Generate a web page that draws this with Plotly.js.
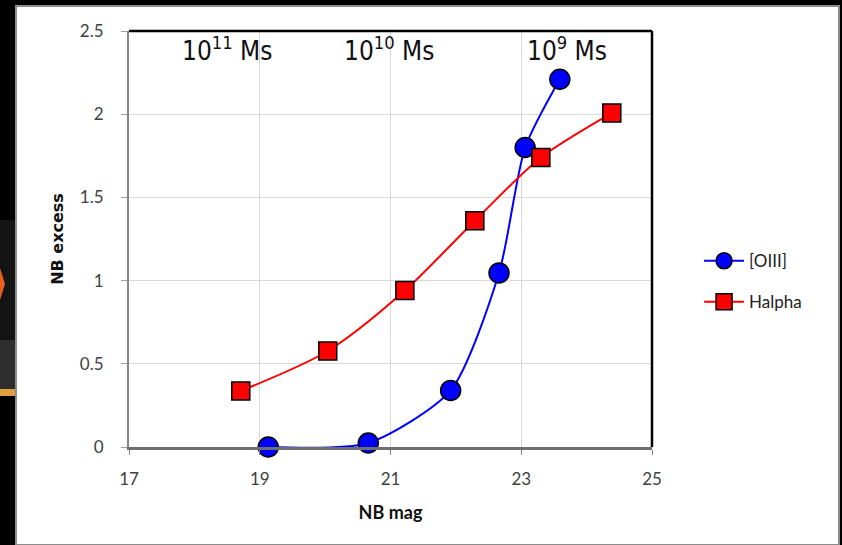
<!DOCTYPE html>
<html>
<head>
<meta charset="utf-8">
<script src="https://cdn.plot.ly/plotly-3.0.1.min.js"></script>
<style>
html,body{margin:0;padding:0;background:#000;}
#chart{width:842px;height:545px;}
</style>
</head>
<body>
<div id="chart"></div>
<script>
// ---- data ----
const oiiiMag = [19.13, 20.66, 21.92, 22.66, 23.06, 23.59];
const oiiiExcess = [0.0, 0.024, 0.34, 1.046, 1.80, 2.21];
const haMag = [18.71, 20.04, 21.22, 22.29, 23.30, 24.385];
const haExcess = [0.337, 0.577, 0.94, 1.36, 1.74, 2.007];
const xTicks = [17, 19, 21, 23, 25];
const yTicks = [0, 0.5, 1, 1.5, 2, 2.5];
const massLabels = ["10<sup>11</sup> Ms", "10<sup>10</sup> Ms", "10<sup>9</sup> Ms"];
const massLabelX = [18.5, 20.98, 23.7];
const massLabelY = [2.39, 2.39, 2.39];

const tickFont = {family: "Lato, sans-serif", size: 17, color: "#404040"};

const traces = [
  {
    x: oiiiMag, y: oiiiExcess, name: "[OIII]", type: "scatter", mode: "lines+markers",
    legendgroup: "a",
    line: {color: "#0000ff", width: 2, shape: "spline", smoothing: 0.7},
    marker: {symbol: "circle", size: 20, color: "#0000ff", line: {color: "#000", width: 1.5}},
    cliponaxis: false
  },
  {
    x: haMag, y: haExcess, name: "Halpha", type: "scatter", mode: "lines+markers",
    legendgroup: "b",
    line: {color: "#ff0000", width: 2, shape: "spline", smoothing: 0.8},
    marker: {symbol: "square", size: 18, color: "#ff0000", line: {color: "#000", width: 1.5}},
    cliponaxis: false
  }
];

const annotations = massLabels.map((t, i) => ({
  x: massLabelX[i], y: massLabelY[i], xref: "x", yref: "y", text: t, showarrow: false,
  font: {family: "'DejaVu Sans Condensed', 'DejaVu Sans', sans-serif", stretch: "condensed", size: 26, color: "#111"}
}));

const layout = {
  width: 842, height: 545,
  paper_bgcolor: "#000000",
  plot_bgcolor: "rgba(0,0,0,0)",
  margin: {l: 129, r: 190, t: 31, b: 98, pad: 0},
  showlegend: true,
  legend: {
    x: 1.09, y: 0.49, xanchor: "left", yanchor: "top",
    traceorder: "grouped", tracegroupgap: 16,
    font: {family: "Lato, sans-serif", size: 17, color: "#222"},
    bgcolor: "rgba(0,0,0,0)", itemwidth: 40
  },
  xaxis: {
    range: [17, 25], tickvals: xTicks, ticktext: xTicks.map(String),
    showgrid: true, gridcolor: "#d9d9d9", gridwidth: 1,
    zeroline: false, showline: true, linecolor: "#6e6e6e", linewidth: 3,
    ticks: "outside", ticklen: 5, tickcolor: "#868686",
    ticklabelstandoff: 10,
    tickfont: tickFont,
    title: {text: "NB mag", font: {family: "Lato, sans-serif", size: 18, color: "#111", weight: "bold"}, standoff: 18},
    fixedrange: true
  },
  yaxis: {
    range: [0, 2.5], tickvals: yTicks, ticktext: ["0", "0.5", "1", "1.5", "2", "2.5"],
    showgrid: true, gridcolor: "#d9d9d9", gridwidth: 1,
    zeroline: false, showline: true, linecolor: "#868686", linewidth: 2,
    ticks: "outside", ticklen: 6, tickcolor: "#a0a0a0",
    ticklabelstandoff: 14,
    tickfont: tickFont,
    title: {text: "NB excess", font: {family: "'DejaVu Sans', Verdana, sans-serif", size: 16, color: "#111", weight: "bold"}, standoff: 12},
    fixedrange: true
  },
  shapes: [
    // white slide panel
    {type: "rect", xref: "paper", yref: "paper", layer: "below",
     x0: -113/523, x1: 710/523, y0: -98/416, y1: 1 + 25/416,
     fillcolor: "#ffffff", line: {color: "#8c8c8c", width: 2}},
    // left side slide decoration
    {type: "rect", xref: "paper", yref: "paper", layer: "below",
     x0: -129/523, x1: -114/523, y0: (447-340)/416, y1: (447-220)/416,
     fillcolor: "#141414", line: {width: 0}},
    {type: "rect", xref: "paper", yref: "paper", layer: "below",
     x0: -129/523, x1: -114/523, y0: (447-389)/416, y1: (447-340)/416,
     fillcolor: "#2e2e2e", line: {width: 0}},
    {type: "rect", xref: "paper", yref: "paper", layer: "below",
     x0: -129/523, x1: -114/523, y0: (447-396)/416, y1: (447-389)/416,
     fillcolor: "#e0a040", line: {width: 0}},
    {type: "path", xref: "paper", yref: "paper", layer: "below",
     path: "M " + (-129/523) + "," + ((447-268)/416) + " L " + (-124/523) + "," + ((447-284)/416) + " L " + (-129/523) + "," + ((447-300)/416) + " Z",
     fillcolor: "#e86020", line: {width: 0}},
    // plot frame: top and right edges
    {type: "line", xref: "paper", yref: "paper", layer: "above",
     x0: 0, x1: 1, y0: 1, y1: 1, line: {color: "#000000", width: 2.5}},
    {type: "line", xref: "paper", yref: "paper", layer: "above",
     x0: 1, x1: 1, y0: 0, y1: 1, line: {color: "#000000", width: 2.5}}
  ],
  annotations: annotations
};

Plotly.newPlot("chart", traces, layout, {displayModeBar: false, staticPlot: true});
</script>
</body>
</html>
